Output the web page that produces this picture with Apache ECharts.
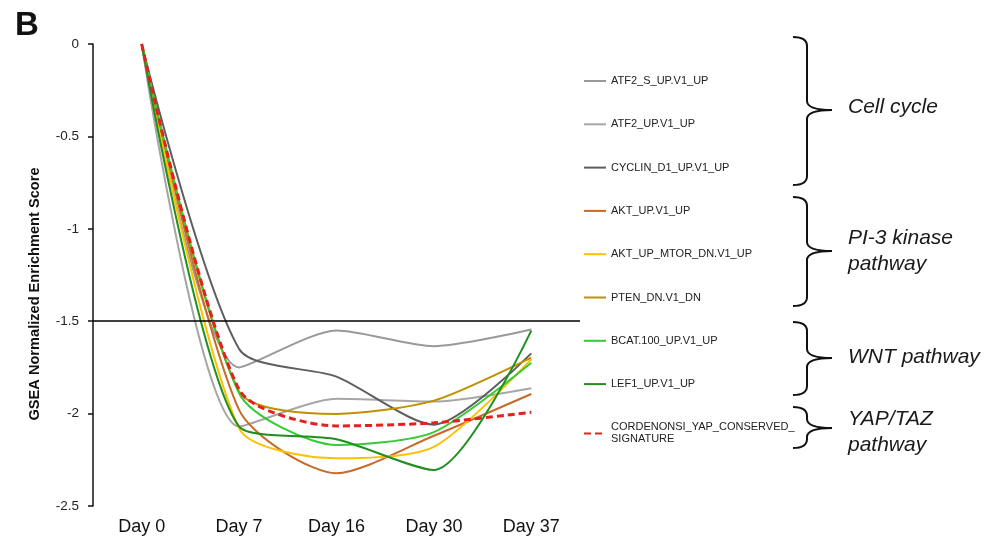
<!DOCTYPE html>
<html>
<head>
<meta charset="utf-8">
<script src="https://cdn.jsdelivr.net/npm/echarts@6/dist/echarts.min.js"></script>
<style>html,body{margin:0;padding:0;background:#fff}#c{width:992px;height:541px}</style>
</head>
<body>
<div id="c"></div>
<script>
// ---- data ----
const days = ['Day 0', 'Day 7', 'Day 16', 'Day 30', 'Day 37'];
const yTicks = [0, -0.5, -1, -1.5, -2, -2.5];
const seriesNames = ['ATF2_S_UP.V1_UP', 'ATF2_UP.V1_UP', 'CYCLIN_D1_UP.V1_UP', 'AKT_UP.V1_UP',
  'AKT_UP_MTOR_DN.V1_UP', 'PTEN_DN.V1_DN', 'BCAT.100_UP.V1_UP', 'LEF1_UP.V1_UP',
  'CORDENONSI_YAP_CONSERVED_SIGNATURE'];
const atf2S = [0, -1.75, -1.55, -1.635, -1.545];
const atf2 = [0, -2.07, -1.92, -1.935, -1.863];
const cyclinD1 = [0, -1.65, -1.80, -2.06, -1.674];
const akt = [0, -1.98, -2.323, -2.12, -1.894];
const aktMtor = [0, -2.08, -2.242, -2.18, -1.705];
const pten = [0, -1.88, -2.002, -1.93, -1.697];
const bcat = [0, -1.89, -2.17, -2.10, -1.725];
const lef1 = [0, -2.07, -2.139, -2.305, -1.551];
const cordenonsi = [0, -1.87, -2.067, -2.05, -1.993];
const crossValue = -1.5;
const groups = [
  {lines: ['Cell cycle']},
  {lines: ['PI-3 kinase', 'pathway']},
  {lines: ['WNT pathway']},
  {lines: ['YAP/TAZ', 'pathway']}
];

// ---- styles ----
const values = [atf2S, atf2, cyclinD1, akt, aktMtor, pten, bcat, lef1, cordenonsi];
const colors = ['#999999', '#a6a6a6', '#5e5e5e', '#c86a28', '#ffc000', '#bf9000', '#33cc33', '#1f8f1f', '#e52020'];
const FONT = '"Liberation Sans", Arial, sans-serif';

const series = values.map((v, i) => {
  const isRed = i === 8;
  const s = {
    name: seriesNames[i],
    type: 'line',
    data: v,
    smooth: 0.25,
    symbol: 'none',
    lineStyle: {color: colors[i], width: isRed ? 3 : 2, type: isRed ? [7, 4] : 'solid'},
    itemStyle: {color: colors[i]},
    z: isRed ? 5 : 3
  };
  if (i === 0) {
    s.markLine = {
      silent: true, symbol: 'none', label: {show: false},
      lineStyle: {color: '#000', width: 1.5, type: 'solid'},
      data: [{yAxis: crossValue}], animation: false
    };
  }
  return s;
});

// braces
const braces = [
  {top: 37, tip: 110, bottom: 185},
  {top: 197, tip: 251, bottom: 306},
  {top: 322, tip: 358, bottom: 395},
  {top: 407, tip: 428, bottom: 448}
];
const labelY = [[107], [238, 264], [357], [419, 445]];
const braceStyle = {stroke: '#111', lineWidth: 2, fill: null};
function braceParts(b) {
  const x0 = 793, xv = 807, xt = 832, r = 9;
  const q = (x1, y1, cx, cy, x2, y2) => ({type: 'bezierCurve', shape: {x1, y1, cpx1: cx, cpy1: cy, x2, y2}, style: braceStyle});
  const l = (x1, y1, x2, y2) => ({type: 'line', shape: {x1, y1, x2, y2}, style: braceStyle});
  return [
    q(x0, b.top, xv, b.top, xv, b.top + r),
    l(xv, b.top + r, xv, b.tip - r),
    q(xv, b.tip - r, xv, b.tip, xt, b.tip),
    q(xt, b.tip, xv, b.tip, xv, b.tip + r),
    l(xv, b.tip + r, xv, b.bottom - r),
    q(xv, b.bottom - r, xv, b.bottom, x0, b.bottom)
  ];
}
const graphics = [];
braces.forEach((b, i) => {
  braceParts(b).forEach(p => graphics.push(p));
  groups[i].lines.forEach((t, j) => {
    graphics.push({type: 'text', x: 848, y: labelY[i][j],
      style: {text: t, fontSize: 21, fontStyle: 'italic', fontFamily: FONT, fill: '#1a1a1a', align: 'left', verticalAlign: 'middle'}});
  });
});
graphics.push({type: 'text', x: 15, y: 26, style: {text: 'B', fontSize: 33, fontWeight: 'bold', fontFamily: FONT, fill: '#111', align: 'left', verticalAlign: 'middle'}});
graphics.push({type: 'text', x: 35, y: 294, rotation: Math.PI / 2,
  style: {text: 'GSEA Normalized Enrichment Score', fontSize: 14.6, fontWeight: 'bold', fontFamily: FONT, fill: '#111', align: 'center', verticalAlign: 'middle'}});

const chart = echarts.init(document.getElementById('c'), null, {renderer: 'canvas'});
chart.setOption({
  animation: false,
  backgroundColor: '#fff',
  grid: {left: 93, right: 412, top: 44, bottom: 35, containLabel: false},
  xAxis: {
    type: 'category', data: days, boundaryGap: true,
    axisLine: {show: false}, axisTick: {show: false}, splitLine: {show: false},
    axisLabel: {color: '#111', fontSize: 18, fontFamily: FONT, margin: 12}
  },
  yAxis: {
    type: 'value', min: yTicks[yTicks.length - 1], max: yTicks[0], interval: 0.5,
    axisLine: {show: true, lineStyle: {color: '#111', width: 1.5}},
    axisTick: {show: true, length: 5, lineStyle: {color: '#111', width: 1.5}},
    splitLine: {show: false},
    axisLabel: {color: '#222', fontSize: 13.5, fontFamily: FONT, margin: 14}
  },
  legend: {
    orient: 'vertical', left: 583, top: 75, padding: 0,
    itemWidth: 22, itemHeight: 10, itemGap: 31.3,
    itemStyle: {opacity: 0},
    textStyle: {fontSize: 11, fontFamily: FONT, color: '#222', lineHeight: 12},
    formatter: n => n === 'CORDENONSI_YAP_CONSERVED_SIGNATURE' ? 'CORDENONSI_YAP_CONSERVED_\nSIGNATURE' : n,
    data: seriesNames
  },
  series: series,
  graphic: graphics
});
</script>
</body>
</html>
